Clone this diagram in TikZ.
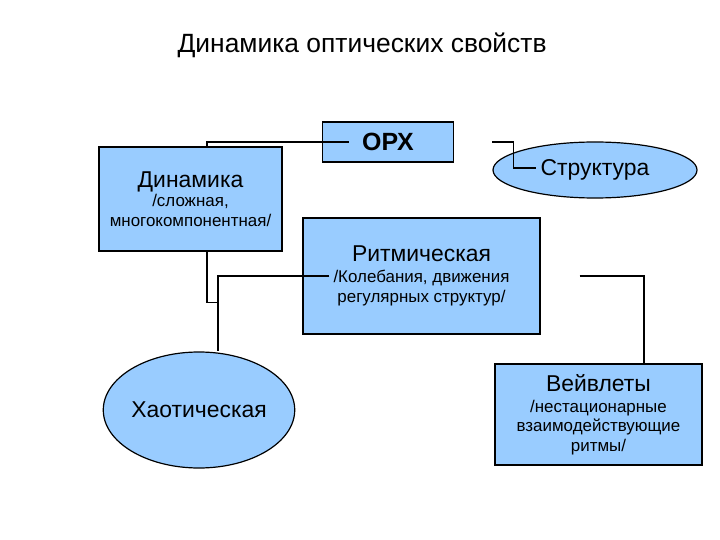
\documentclass[tikz,border=0pt]{standalone}
\usepackage{fontspec}
\setmainfont{Liberation Sans}
\usetikzlibrary{shapes.geometric}
\definecolor{boxblue}{HTML}{99CCFF}
\newcommand{\headtxt}[1]{{\fontsize{23}{25}\selectfont #1}}

\begin{document}
\begin{tikzpicture}[
  x=1bp, y=-1bp,
  box/.style={draw, fill=boxblue, line width=1.2pt, align=center, inner sep=2pt, font=\fontsize{17}{19.5}\selectfont},
  oval/.style={ellipse, draw, fill=boxblue, line width=1.2pt, inner sep=0pt},
  link/.style={line width=1.2pt}
]
\useasboundingbox (0,0) rectangle (720,540);
\node[font=\fontsize{26.5}{30}\selectfont] (title) at (362,45) {Динамика оптических свойств};
\node[box, minimum width=131bp, minimum height=40bp, font=\bfseries\fontsize{25}{28}\selectfont] (orx) at (388,142) {ОРХ};
\node[box, minimum width=183bp, minimum height=104bp] (dyn) at (190.5,199) {\headtxt{Динамика}\\[0pt] /сложная,\\ многокомпонентная/};
\node[oval, minimum width=204bp, minimum height=56bp, font=\fontsize{23}{25}\selectfont] (struct) at (595,170) {Структура};
\node[box, minimum width=237bp, minimum height=116bp] (ritm) at (421.5,276) {\headtxt{Ритмическая}\\[1.5pt] /Колебания, движения\\ регулярных структур/};
\node[oval, minimum width=172bp, minimum height=116bp, font=\fontsize{23}{25}\selectfont] (chaos) at (199,410) {Хаотическая};
\node[box, minimum width=207bp, minimum height=101bp] (wav) at (598.5,414.5) {\headtxt{Вейвлеты}\\[1.5pt] /нестационарные\\ взаимодействующие\\ ритмы/};
% connectors
\draw[link] ([xshift=27bp]orx.west) -| ([xshift=16.5bp]dyn.north);
\draw[link] ([xshift=38bp]orx.east) -- ++(21,0) |- ([xshift=44bp,yshift=2bp]struct.west);
\draw[link] ([xshift=16.5bp]dyn.south) -- ++(0,51) -| ([xshift=19bp]chaos.north);
\draw[link] ([xshift=27bp]ritm.west) -| ([xshift=19bp]chaos.north);
\draw[link] ([xshift=39bp]ritm.east) -| ([xshift=45.5bp]wav.north);
\end{tikzpicture}
\end{document}
